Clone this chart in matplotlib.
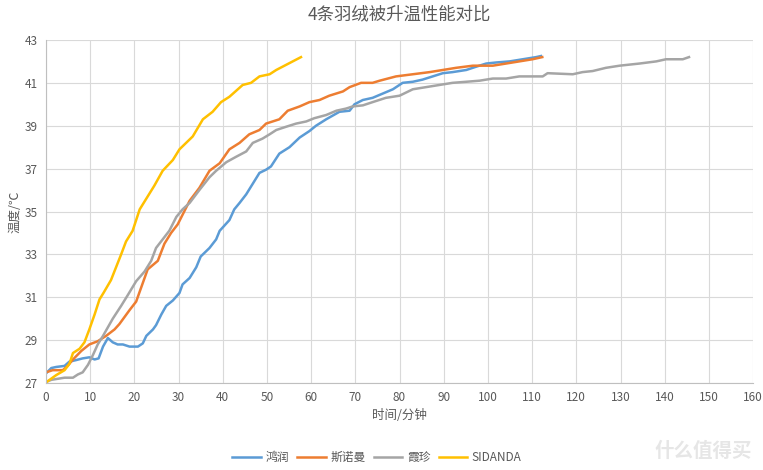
import matplotlib
matplotlib.use("Agg")
import matplotlib.pyplot as plt

plt.rcParams['font.family'] = ['Noto Sans CJK SC', 'DejaVu Sans']

# Données (temps en minutes, température en °C)
t_hongrun = [0, 1.2, 2.3, 4.2, 5.3, 6.8, 8.3, 9.8, 11, 11.9, 12.9, 14, 15.1, 16.2, 17.4, 18.9,
             20.8, 21.9, 22.7, 24.2, 24.9, 26.1, 27.2, 28.7, 30.2, 30.9, 32.5, 34, 35, 36, 37,
             38.5, 39.3, 41.5, 42.6, 43.8, 45.3, 46.8, 48.3, 49.8, 50.9, 52.8, 55.1, 57.4, 59.6,
             61.1, 63.4, 66.4, 68.7, 69.8, 71.7, 73.9, 76.2, 78.5, 80.7, 83, 85.2, 87.5, 89.8,
             92, 95.1, 97.3, 99.6, 101.9, 104.9, 107.9, 110.9, 112]
T_hongrun = [27.45, 27.7, 27.75, 27.8, 28.0, 28.07, 28.15, 28.2, 28.1, 28.15, 28.7, 29.1, 28.9,
             28.8, 28.8, 28.7, 28.7, 28.85, 29.2, 29.5, 29.7, 30.2, 30.6, 30.85, 31.2, 31.6,
             31.9, 32.4, 32.9, 33.1, 33.3, 33.7, 34.1, 34.6, 35.1, 35.4, 35.8, 36.3, 36.8, 36.95,
             37.1, 37.7, 38.0, 38.45, 38.75, 39.0, 39.3, 39.65, 39.7, 40.0, 40.2, 40.3, 40.5,
             40.7, 41.0, 41.05, 41.15, 41.3, 41.45, 41.5, 41.6, 41.75, 41.9, 41.95, 42.0, 42.1,
             42.2, 42.25]

t_snowman = [0, 1.5, 3.8, 4.9, 6.1, 8, 9.8, 11.7, 13.6, 15.5, 16.6, 18.9, 20.4, 23, 25.3, 26.8,
             28.3, 29.8, 32.5, 34.7, 37, 39.3, 41.5, 43.8, 46, 48.3, 49.8, 52.8, 54.7, 57.4,
             59.6, 61.9, 64.1, 67.2, 68.7, 71.3, 73.9, 75.5, 79.2, 83, 86.8, 89.8, 92.8, 96.6,
             101.1, 104.1, 107.1, 110.1, 112.3]
T_snowman = [27.5, 27.6, 27.6, 27.8, 28.1, 28.5, 28.8, 28.95, 29.2, 29.5, 29.75, 30.4, 30.8,
             32.3, 32.7, 33.5, 34.0, 34.4, 35.5, 36.1, 36.9, 37.25, 37.9, 38.2, 38.6, 38.8, 39.1,
             39.3, 39.7, 39.9, 40.1, 40.2, 40.4, 40.6, 40.8, 41.0, 41.0, 41.1, 41.3, 41.4, 41.5,
             41.6, 41.7, 41.8, 41.8, 41.9, 42.0, 42.1, 42.2]

t_xiazhen = [0, 1.2, 2.7, 4.2, 6.1, 7.2, 8.3, 9.5, 10.6, 11.7, 12.9, 15.1, 17, 18.5, 20.4, 22.3,
             23.8, 24.9, 26.4, 27.9, 29.5, 30.9, 32.5, 34.7, 37, 38.5, 40.8, 43, 45.3, 46.8, 49,
             50.6, 52.1, 54.3, 56.6, 58.9, 60.7, 63.4, 65.7, 67.9, 69.4, 71.7, 73.9, 76.9, 80,
             83, 86, 89, 92, 95.1, 98.1, 101.1, 104.1, 107.1, 112.4, 113.5, 119.2, 121.4, 123.7,
             126.7, 129.8, 134.3, 138.1, 140.3, 144.1, 145.5]
T_xiazhen = [27.05, 27.15, 27.2, 27.25, 27.25, 27.4, 27.5, 27.85, 28.3, 28.8, 29.2, 30.0, 30.6,
             31.1, 31.75, 32.2, 32.7, 33.3, 33.7, 34.1, 34.75, 35.1, 35.4, 36.0, 36.6, 36.9,
             37.3, 37.55, 37.8, 38.2, 38.4, 38.6, 38.8, 38.95, 39.1, 39.2, 39.35, 39.5, 39.7,
             39.8, 39.9, 39.95, 40.1, 40.3, 40.4, 40.7, 40.8, 40.9, 41.0, 41.05, 41.1, 41.2,
             41.2, 41.3, 41.3, 41.45, 41.4, 41.5, 41.55, 41.7, 41.8, 41.9, 42.0, 42.1, 42.1, 42.2]

t_sidanda = [0.2, 2.3, 4.2, 5.3, 6.1, 7.6, 8.7, 9.8, 11, 12.1, 13, 14.7, 17, 18.1, 19.6, 21.2,
             23, 24.5, 26.4, 28.7, 30.2, 33.2, 35.5, 37.7, 39.6, 41.5, 44.5, 46.4, 48.3, 50.6,
             52.1, 57.7]
T_sidanda = [27.06, 27.37, 27.6, 27.9, 28.4, 28.6, 28.9, 29.5, 30.2, 30.9, 31.2, 31.8, 33.0,
             33.6, 34.1, 35.1, 35.7, 36.2, 36.9, 37.4, 37.9, 38.5, 39.3, 39.65, 40.1, 40.35,
             40.9, 41.0, 41.3, 41.4, 41.6, 42.2]

# Couleurs Excel
Bleu = '#5B9BD5'
Orange = '#ED7D31'
Gris = '#A5A5A5'
Jaune = '#FFC000'
Texte = '#595959'

fig = plt.figure(figsize=(7.63, 4.70), dpi=100)
ax = fig.add_axes([0.0603, 0.185, 0.9267, 0.73])

ax.plot(t_hongrun, T_hongrun, color=Bleu, lw=1.8, label='鸿润')
ax.plot(t_snowman, T_snowman, color=Orange, lw=1.8, label='斯诺曼')
ax.plot(t_xiazhen, T_xiazhen, color=Gris, lw=1.8, label='霞珍')
ax.plot(t_sidanda, T_sidanda, color=Jaune, lw=1.8, label='SIDANDA')

ax.set_xlim(0, 160)
ax.set_ylim(27, 43)
ax.set_xticks(range(0, 161, 10))
ax.set_yticks(range(27, 44, 2))
ax.grid(True, color='#d9d9d9', lw=0.8)
ax.set_axisbelow(True)
for s in ['top', 'right']:
    ax.spines[s].set_visible(False)
for s in ['left', 'bottom']:
    ax.spines[s].set_color('#bfbfbf')
ax.tick_params(length=0, labelsize=8.5, colors=Texte, pad=6)

ax.set_title('4条羽绒被升温性能对比', fontsize=12.5, color=Texte, pad=14)
ax.set_xlabel('时间/分钟', fontsize=9, color=Texte, labelpad=3)
ax.set_ylabel('温度/℃', fontsize=9, color=Texte, labelpad=2)

fig.legend(loc='lower center', bbox_to_anchor=(0.494, -0.01), ncol=4, frameon=False,
           fontsize=8.5, labelcolor=Texte, handlelength=2.4, columnspacing=0.7,
           handletextpad=0.4)

fig.text(0.985, 0.04, '什么值得买', ha='right', va='center', fontsize=14,
         color='#e6e6e6', fontweight='bold')

fig.savefig('out.png', dpi=100)
